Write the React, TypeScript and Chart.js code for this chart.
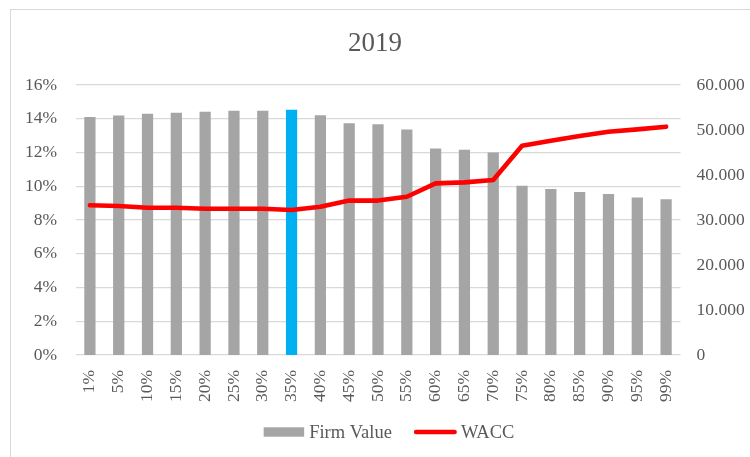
import React, { useEffect, useRef } from 'react';
import { Chart, registerables } from 'chart.js';

Chart.register(...registerables);

const categories = ['1%', '5%', '10%', '15%', '20%', '25%', '30%', '35%', '40%', '45%', '50%', '55%', '60%', '65%', '70%', '75%', '80%', '85%', '90%', '95%', '99%'];
const firmValue = [52900, 53200, 53600, 53850, 54050, 54300, 54300, 54500, 53300, 51500, 51300, 50100, 45900, 45600, 45000, 37600, 36900, 36200, 35800, 35000, 34600];
const wacc = [8.87, 8.83, 8.73, 8.73, 8.67, 8.67, 8.67, 8.59, 8.79, 9.15, 9.15, 9.38, 10.17, 10.23, 10.37, 12.4, 12.7, 12.98, 13.23, 13.37, 13.53];
const highlightIndex = 7;
const seriesNames = ['Firm Value', 'WACC'];
const chartTitle = '2019';

const FONT = '"Liberation Serif", "Times New Roman", serif';
const TEXT = '#595959';
const GRAY = '#A5A5A5';
const BLUE = '#00B0F0';
const RED = '#FF0000';

const legendPlugin = {
  id: 'customLegend',
  afterDraw(chart: any) {
    const ctx = chart.ctx;
    const ds = chart.data.datasets;
    ctx.save();
    ctx.font = `18.5px ${FONT}`;
    ctx.textBaseline = 'middle';
    ctx.textAlign = 'left';
    const y = 432;
    const boxW = 40.5;
    const lineW = 43;
    const gap1 = 5;
    const gap2 = 4;
    const spacing = 22;
    const t1 = ctx.measureText(ds[0].label).width;
    const t2 = ctx.measureText(ds[1].label).width;
    const total = boxW + gap1 + t1 + spacing + lineW + gap2 + t2;
    let x = 389 - total / 2;
    ctx.fillStyle = GRAY;
    ctx.fillRect(x, y - 4.7, boxW, 9.4);
    x += boxW + gap1;
    ctx.fillStyle = TEXT;
    ctx.fillText(ds[0].label, x, y + 1);
    x += t1 + spacing;
    ctx.strokeStyle = RED;
    ctx.lineWidth = 4.6;
    ctx.lineCap = 'round';
    ctx.beginPath();
    ctx.moveTo(x + 2.3, y);
    ctx.lineTo(x + lineW - 2.3, y);
    ctx.stroke();
    x += lineW + gap2;
    ctx.fillStyle = TEXT;
    ctx.fillText(ds[1].label, x, y + 1);
    ctx.restore();
  },
};

export default function App() {
  const ref = useRef<HTMLCanvasElement | null>(null);

  useEffect(() => {
    if (!ref.current) return;
    const chart = new Chart(ref.current, {
      type: 'bar',
      data: {
        labels: categories,
        datasets: [
          {
            type: 'bar',
            label: seriesNames[0],
            data: firmValue,
            backgroundColor: firmValue.map((_, i) => (i === highlightIndex ? BLUE : GRAY)),
            borderWidth: 0,
            yAxisID: 'y1',
            categoryPercentage: 1,
            barPercentage: 0.39,
            order: 2,
          } as any,
          {
            type: 'line',
            label: seriesNames[1],
            data: wacc,
            borderColor: RED,
            backgroundColor: RED,
            borderWidth: 4.6,
            pointRadius: 0,
            tension: 0,
            borderJoinStyle: 'round',
            borderCapStyle: 'round',
            yAxisID: 'y',
            order: 1,
          } as any,
        ],
      },
      options: {
        animation: false,
        responsive: false,
        maintainAspectRatio: false,
        layout: { padding: { left: 0, right: 0, top: 0, bottom: 0 } },
        plugins: {
          legend: { display: false },
          tooltip: { enabled: false },
          title: {
            display: true,
            text: chartTitle,
            color: TEXT,
            font: { family: FONT, size: 27, weight: 'normal' },
            padding: { top: 27.5, bottom: 25.1 },
          },
        },
        scales: {
          x: {
            grid: { display: false },
            border: { display: false },
            ticks: {
              color: TEXT,
              font: { family: FONT, size: 17.5 },
              minRotation: 90,
              maxRotation: 90,
              autoSkip: false,
              padding: 7,
            },
            afterFit(scale: any) {
              scale.height = 102;
            },
          },
          y: {
            position: 'left',
            min: 0,
            max: 16,
            grid: { color: '#D9D9D9', lineWidth: 1.3, drawTicks: false },
            border: { display: false },
            ticks: {
              stepSize: 2,
              color: TEXT,
              font: { family: FONT, size: 17.5 },
              padding: 18.5,
              callback: (v: any) => `${v}%`,
            },
            afterFit(scale: any) {
              scale.width = 75.5;
            },
          },
          y1: {
            position: 'right',
            min: 0,
            max: 60000,
            grid: { display: false, drawTicks: false },
            border: { display: false },
            ticks: {
              stepSize: 10000,
              color: TEXT,
              font: { family: FONT, size: 17.5 },
              padding: 16,
              callback: (v: any) => (v === 0 ? '0' : (Number(v) / 1000).toFixed(3)),
            },
            afterFit(scale: any) {
              scale.width = 69.5;
            },
          },
        },
      },
      plugins: [legendPlugin],
    });
    return () => chart.destroy();
  }, []);

  return (
    <div style={{ position: 'fixed', left: 0, top: 0, width: 750, height: 457, overflow: 'hidden', background: '#FFFFFF' }}>
      <div
        style={{
          position: 'absolute',
          left: 10,
          top: 9,
          width: 800,
          height: 500,
          borderTop: '1.5px solid #D9D9D9',
          borderLeft: '1.5px solid #D9D9D9',
        }}
      />
      <canvas ref={ref} width={750} height={457} style={{ position: 'absolute', left: 0, top: 0, width: 750, height: 457 }} />
    </div>
  );
}
